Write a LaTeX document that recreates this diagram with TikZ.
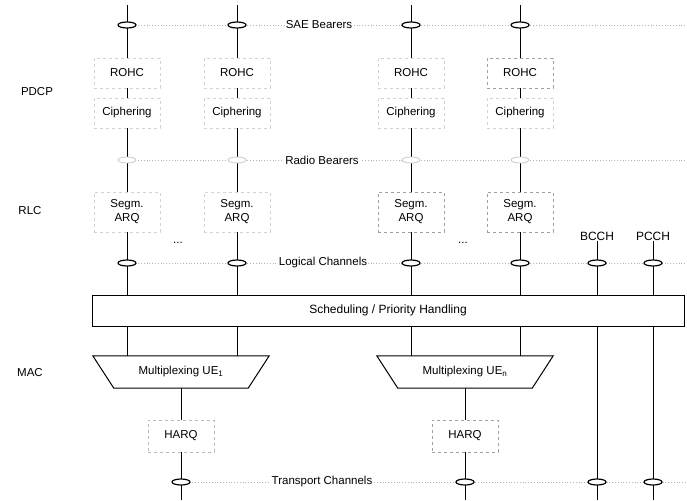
\documentclass[tikz,border=0pt]{standalone}
\usepackage{fontspec}
\setmainfont{Liberation Sans}
\usetikzlibrary{shapes.geometric}
\begin{document}
\begin{tikzpicture}[x=1pt,y=-1pt,
  txt/.style={inner sep=1pt, font=\fontsize{11.5}{14}\selectfont, align=center},
  lbl/.style={txt, fill=white},
  fnbox/.style={txt, draw=gray!35, dashed, minimum width=66pt},
  dkbox/.style={txt, draw=gray!75, dashed, minimum width=66pt},
  chan/.style={line width=1pt},
  dotrow/.style={gray!60, dotted, line width=0.8pt},
  bmark/.style={ellipse, draw, fill=white, line width=1.2pt, minimum width=18pt, minimum height=6pt, inner sep=0pt},
  fmark/.style={ellipse, draw=gray!40, fill=white, line width=0.8pt, minimum width=18pt, minimum height=6pt, inner sep=0pt},
  plain/.style={txt, minimum width=176pt, minimum height=32pt}
]
\useasboundingbox (0,0) rectangle (687,500);
\fill[white] (0,0) rectangle (687,500);

% channel rows (dotted)
\coordinate (sL) at (127,25);   \coordinate (sR) at (687,25);
\coordinate (rL) at (127,160);  \coordinate (rR) at (687,160);
\coordinate (lL) at (127,263);  \coordinate (lR) at (687,263);
\coordinate (tL) at (181,482);  \coordinate (tR) at (687,482);
\draw[dotrow] (sL) -- (sR);
\draw[dotrow] (rL) -- (rR);
\draw[dotrow] (lL) -- (lR);
\draw[dotrow] (tL) -- (tR);

% layer names
\node[txt] (pdcp) at (37,92) {PDCP};
\node[txt] (rlc) at (30,211) {RLC};
\node[txt] (mac) at (30,373) {MAC};

% row labels
\node[lbl] (sae) at (319,25) {SAE Bearers};
\node[lbl] (rb) at (322,160) {Radio Bearers};
\node[lbl] (lc) at (323,263) {Logical Channels};
\node[lbl] (tc) at (322,482) {Transport Channels};

% PDCP / RLC entities
\foreach \i/\x/\st in {1/127/fnbox, 2/237/fnbox, 3/411/fnbox, 4/520/dkbox}{
  \coordinate (top\i) at (\x,5);
  \node[\st, minimum height=30pt] (rohc\i) at (\x,73) {ROHC};
  \node[fnbox, minimum height=30pt] (ciph\i) at (\x,113) {Ciphering};
}
\node[fnbox, minimum height=40pt] (segm1) at (127,212) {Segm.\\ARQ};
\node[fnbox, minimum height=40pt] (segm2) at (237,212) {Segm.\\ARQ};
\node[dkbox, minimum height=40pt] (segm3) at (411,212) {Segm.\\ARQ};
\node[dkbox, minimum height=40pt] (segm4) at (520,212) {Segm.\\ARQ};

\node[txt] (dotsA) at (178,243) {...};
\node[txt] (dotsB) at (463,243) {...};

% broadcast / paging channels
\node[txt, font=\fontsize{12}{14}\selectfont] (bcch) at (597,236) {BCCH};
\node[txt, font=\fontsize{12}{14}\selectfont] (pcch) at (653,236) {PCCH};

% scheduling
\node[txt, font=\fontsize{12}{14}\selectfont, draw, line width=0.7pt, minimum width=592pt, minimum height=31pt] (sched) at (388,310.5) {Scheduling / Priority Handling};

% multiplexing entities
\node[plain] (mux1) at (181,372) {Multiplexing UE\textsubscript{1}};
\node[plain] (muxn) at (465,372) {Multiplexing UE\textsubscript{n}};
\foreach \m in {mux1,muxn}{
  \draw[line width=1pt] (\m.north west) -- (\m.north east)
    -- ([xshift=-21pt]\m.south east) -- ([xshift=21pt]\m.south west) -- cycle;
}

% HARQ
\node[fnbox, minimum height=32pt, draw=gray!55] (harq1) at (181,436) {HARQ};
\node[dkbox, minimum height=32pt] (harqn) at (465,436) {HARQ};

\coordinate (bot1) at (181,500);
\coordinate (botn) at (465,500);
\coordinate (botb) at (597,500);
\coordinate (botp) at (653,500);

% vertical connectors of the radio bearers
\foreach \i in {1,2,3,4}{
  \draw[chan] (top\i) -- (rohc\i);
  \draw[chan] (rohc\i) -- (ciph\i);
  \draw[chan] (ciph\i) -- (segm\i);
  \draw[chan] (segm\i) -- (segm\i |- sched.north);
}
\foreach \i in {1,2}{
  \draw[chan] (segm\i |- sched.south) -- (segm\i |- mux1.north);
}
\foreach \i in {3,4}{
  \draw[chan] (segm\i |- sched.south) -- (segm\i |- muxn.north);
}
\draw[chan] (mux1) -- (harq1);
\draw[chan] (muxn) -- (harqn);
\draw[chan] (harq1) -- (bot1);
\draw[chan] (harqn) -- (botn);

\draw[chan] (bcch) -- (bcch |- sched.north);
\draw[chan] (pcch) -- (pcch |- sched.north);
\draw[chan] (bcch |- sched.south) -- (botb);
\draw[chan] (pcch |- sched.south) -- (botp);

% bearer / channel markers
\foreach \i in {1,2,3,4}{
  \node[bmark] (sm\i) at (top\i |- sL) {};
  \node[fmark] (rm\i) at (top\i |- rL) {};
  \node[bmark] (lm\i) at (top\i |- lL) {};
}
\node[bmark] (lmb) at (bcch |- lL) {};
\node[bmark] (lmp) at (pcch |- lL) {};
\node[bmark] (tm1) at (bot1 |- tL) {};
\node[bmark] (tmn) at (botn |- tL) {};
\node[bmark] (tmb) at (botb |- tL) {};
\node[bmark] (tmp) at (botp |- tL) {};
\end{tikzpicture}
\end{document}
